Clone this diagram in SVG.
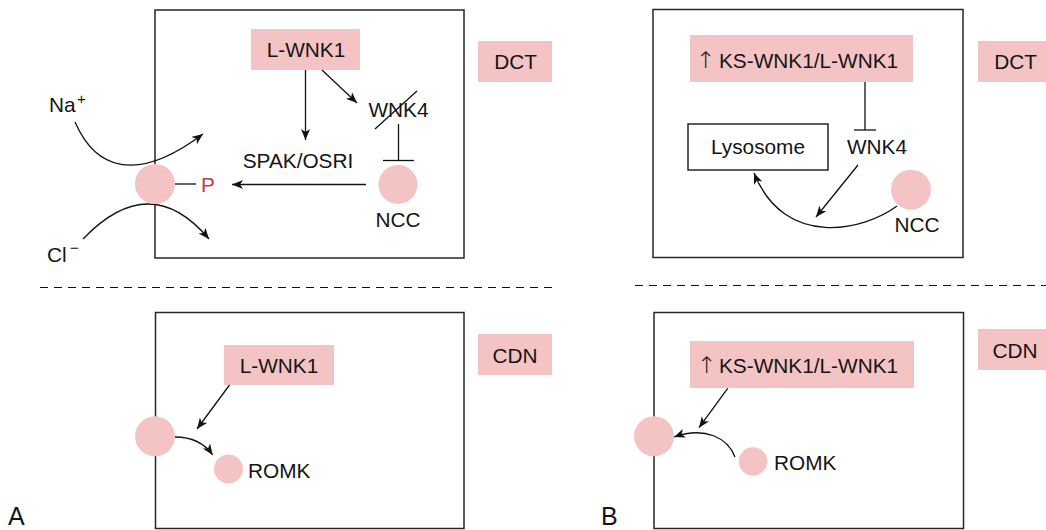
<svg xmlns="http://www.w3.org/2000/svg" width="1046" height="530" viewBox="0 0 1046 530">
<defs>
<style>
.box{fill:none;stroke:#262626;stroke-width:1.5}
.pink{fill:#f4c4c5}
.t{font-family:"Liberation Sans",Arial,Helvetica,sans-serif;font-size:20.8px;fill:#141414}
.c{text-anchor:middle}
.up{font-family:"DejaVu Sans","Liberation Sans",sans-serif;font-size:23px;font-weight:300}
.ln{fill:none;stroke:#111;stroke-width:1.3}
.arr{marker-end:url(#ah)}
.dash{stroke:#111;stroke-width:1.1;stroke-dasharray:8 6;fill:none}
.lbl{font-family:"Liberation Sans",Arial,Helvetica,sans-serif;font-size:25px;fill:#141414}
</style>
<marker id="ah" markerUnits="userSpaceOnUse" markerWidth="12" markerHeight="10" refX="11" refY="4.5" orient="auto">
<path d="M0,0 L11,4.5 L0,9 L3,4.5 z" fill="#111"/>
</marker>
</defs>
<rect width="1046" height="530" fill="#fff"/>

<!-- Panel A, DCT -->
<g id="a-dct-cell"><rect class="box" x="155" y="10" width="309" height="248"/></g>
<g id="a-dct-tag"><rect class="pink" x="478" y="41" width="74" height="41"/><text class="t c" x="515.5" y="69">DCT</text></g>
<g id="a-dct-lwnk1"><rect class="pink" x="251" y="29" width="109" height="41"/><text class="t c" x="306" y="57">L-WNK1</text></g>
<g id="a-dct-wnk4"><text class="t c" x="398.5" y="117">WNK4</text><line class="ln" x1="375" y1="129" x2="417" y2="91"/></g>
<g id="a-dct-spak"><text class="t c" x="298" y="168">SPAK/OSRI</text></g>
<g id="a-dct-na"><text class="t" x="49" y="112">Na<tspan x="77" y="104" font-size="15">+</tspan></text></g>
<g id="a-dct-cl"><text class="t" x="47" y="262">Cl<tspan x="70" y="253" font-size="15">−</tspan></text></g>

<g id="connectors-a-dct">
<line class="ln arr" x1="305.5" y1="70" x2="305.5" y2="140"/>
<line class="ln arr" x1="322" y1="70" x2="357" y2="103"/>
<line class="ln" x1="398.5" y1="124" x2="398.5" y2="160.5"/>
<line class="ln" x1="383" y1="160.5" x2="414" y2="160.5"/>
<line class="ln arr" x1="366" y1="184.5" x2="232" y2="184.5"/>
<path class="ln arr" d="M75,122 C95,168 135,185 203,134"/>
<path class="ln arr" d="M83,239 Q150,169 209,239"/>
<line class="ln" x1="175" y1="184" x2="196" y2="184"/>
</g>
<g id="a-dct-ncc"><circle class="pink" cx="398" cy="184.5" r="19.5"/><text class="t c" x="398" y="227">NCC</text></g>
<g id="a-dct-channel"><circle class="pink" cx="155" cy="184" r="20"/><text class="t" x="201" y="192" style="fill:#c73a4d">P</text></g>

<!-- Panel B, DCT -->
<g id="b-dct-cell"><rect class="box" x="653" y="9.5" width="310" height="248"/></g>
<g id="b-dct-tag"><rect class="pink" x="978" y="41" width="70" height="41"/><text class="t c" x="1015.5" y="69">DCT</text></g>
<g id="b-dct-kswnk1"><rect class="pink" x="690" y="35" width="223" height="47"/><text class="t" x="696" y="68"><tspan class="up">↑</tspan><tspan x="719">KS-WNK1/L-WNK1</tspan></text></g>
<g id="b-dct-lysosome"><rect class="box" x="688" y="124" width="140" height="46"/><text class="t c" x="758" y="154">Lysosome</text></g>
<g id="b-dct-wnk4"><text class="t c" x="877" y="154">WNK4</text></g>
<g id="connectors-b-dct">
<line class="ln" x1="865" y1="82" x2="865" y2="130"/>
<line class="ln" x1="854" y1="130" x2="876" y2="130"/>
<line class="ln arr" x1="858" y1="165" x2="816" y2="217"/>
<path class="ln arr" d="M897,206 C865,230 785,250 754,173"/>
</g>
<g id="b-dct-ncc"><circle class="pink" cx="911" cy="189.7" r="20"/><text class="t c" x="917" y="232">NCC</text></g>

<!-- dividers -->
<g id="dividers">
<line class="dash" x1="40" y1="287.5" x2="552" y2="287.5"/>
<line class="dash" x1="635" y1="285.5" x2="1046" y2="285.5"/>
</g>

<!-- Panel A, CDN -->
<g id="a-cdn-cell"><rect class="box" x="155.5" y="312.5" width="308.5" height="216"/></g>
<g id="a-cdn-tag"><rect class="pink" x="478" y="334" width="74" height="41"/><text class="t c" x="515" y="363">CDN</text></g>
<g id="a-cdn-lwnk1"><rect class="pink" x="224" y="345" width="110" height="40"/><text class="t c" x="279" y="372.7">L-WNK1</text></g>
<g id="connectors-a-cdn">
<line class="ln arr" x1="229.5" y1="385" x2="197" y2="429"/>
<path class="ln arr" d="M175,437 Q200,437 212.7,455"/>
</g>
<g id="a-cdn-channel"><circle class="pink" cx="155" cy="436.3" r="20"/></g>
<g id="a-cdn-romk"><circle class="pink" cx="228.5" cy="469" r="14.5"/><text class="t" x="248" y="477.7">ROMK</text></g>

<!-- Panel B, CDN -->
<g id="b-cdn-cell"><rect class="box" x="654" y="312.5" width="309.5" height="216"/></g>
<g id="b-cdn-tag"><rect class="pink" x="978" y="329" width="70" height="41"/><text class="t c" x="1015" y="357.7">CDN</text></g>
<g id="b-cdn-kswnk1"><rect class="pink" x="690" y="341" width="224" height="47"/><text class="t" x="697" y="373.3"><tspan class="up">↑</tspan><tspan x="719">KS-WNK1/L-WNK1</tspan></text></g>
<g id="connectors-b-cdn">
<line class="ln arr" x1="727.7" y1="388.3" x2="699" y2="427.7"/>
<path class="ln arr" d="M735,457 C728,438 705,426 674,437"/>
</g>
<g id="b-cdn-channel"><circle class="pink" cx="654" cy="436.3" r="20"/></g>
<g id="b-cdn-romk"><circle class="pink" cx="753" cy="461.5" r="14.3"/><text class="t" x="774" y="470">ROMK</text></g>

<g id="panel-labels">
<text class="lbl" x="8" y="525">A</text>
<text class="lbl" x="601" y="525">B</text>
</g>
</svg>
